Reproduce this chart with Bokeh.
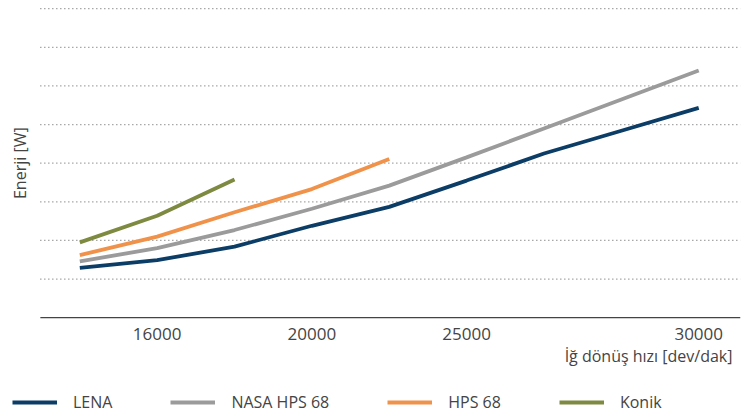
import math
from bokeh.plotting import figure
from bokeh.layouts import column
from bokeh.models import FixedTicker, Legend, LegendItem, Range1d, Title, Label
from bokeh.embed import file_html
from bokeh.resources import INLINE

# x positions (evenly spaced measurement steps) and their labels
x_pos = [0, 1, 2, 3, 4, 5, 6, 7, 8]
x_tick_labels = {1: "16000", 3: "20000", 5: "25000", 8: "30000"}

# Energy values (in gridline units)
lena = [1.29, 1.49, 1.84, 2.38, 2.87, 3.55, 4.25, 4.84, 5.43]
nasa = [1.46, 1.80, 2.27, 2.82, 3.42, 4.15, 4.90, 5.65, 6.40]
hps = [1.62, 2.10, 2.73, 3.33, 4.11]
konik = [1.95, 2.64, 3.58]
grid_levels = [0, 1, 2, 3, 4, 5, 6, 7, 8]

series_names = ["LENA", "NASA HPS 68", "HPS 68", "Konik"]
colors = ["#0b3d66", "#9b9b9b", "#f0924a", "#7d8a40"]

FONT = "Open Sans"
TEXT = "#444444"
LW = 3.8

X_LEFT, X_GRID_START, X_RIGHT = -0.87, -0.51, 8.54

p = figure(frame_width=728, frame_height=311,
           output_backend="svg", toolbar_location=None,
           x_range=Range1d(X_LEFT, X_RIGHT), y_range=Range1d(-0.02, 8.03))
p.min_border_top = 7
p.min_border_left = 12
p.min_border_right = 13
p.min_border_bottom = 54
p.outline_line_color = None
p.background_fill_color = "white"
p.xgrid.visible = False
p.ygrid.visible = False

# dotted gridlines and the solid baseline, starting where the reference's grid starts
n = len(grid_levels) - 1
p.segment(x0=[X_GRID_START] * n, x1=[X_RIGHT] * n, y0=grid_levels[1:], y1=grid_levels[1:],
          line_color="#7a7a7a", line_dash="1 3", line_width=1.2)
p.segment(x0=[X_GRID_START], x1=[X_RIGHT], y0=grid_levels[:1], y1=grid_levels[:1],
          line_color="#444444", line_width=1.5)

all_series = [lena, nasa, hps, konik]
for ys, c in zip(all_series, colors):
    p.line(x_pos[:len(ys)], ys, line_color=c, line_width=LW)

# x axis
xa = p.xaxis[0]
xa.ticker = FixedTicker(ticks=list(x_tick_labels.keys()))
xa.major_label_overrides = x_tick_labels
xa.major_tick_out = 0
xa.major_tick_in = 0
xa.minor_tick_out = 0
xa.minor_tick_in = 0
xa.axis_line_color = None
xa.major_label_text_font = FONT
xa.major_label_text_font_size = "17px"
xa.major_label_text_color = TEXT
xa.major_label_standoff = 9

# x axis title, right aligned
xt = Title(text="İğ dönüş hızı [dev/dak]", align="right", offset=8, standoff=0,
           text_font=FONT, text_font_size="16px", text_font_style="normal",
           text_color=TEXT)
p.add_layout(xt, "below")

# y axis hidden; its label drawn as a rotated label
p.yaxis.visible = False
p.add_layout(Label(x=-0.773, y=4, text="Enerji [W]", angle=math.pi / 2,
                   text_align="center", text_baseline="middle",
                   text_font=FONT, text_font_size="16px", text_color=TEXT))

# legend strip underneath the chart (its lines lie outside its visible range)
q = figure(width=753, height=47, output_backend="svg", toolbar_location=None,
           x_range=Range1d(100, 101), y_range=Range1d(100, 101))
q.min_border = 0
q.min_border_left = 0
q.min_border_right = 0
q.min_border_top = 0
q.min_border_bottom = 0
q.outline_line_color = None
q.axis.visible = False
q.grid.visible = False
legend_renderers = [q.line(x_pos[:len(ys)], ys, line_color=c, line_width=LW)
                    for ys, c in zip(all_series, colors)]

legend = Legend(
    items=[LegendItem(label=nm, renderers=[r]) for nm, r in zip(series_names, legend_renderers)],
    orientation="horizontal", location=(0, 6),
    glyph_width=45, glyph_height=20, label_standoff=16, spacing=58,
    padding=0, margin=0, border_line_alpha=0, background_fill_alpha=0,
    label_text_font=FONT, label_text_font_size="16px", label_text_color=TEXT,
)
q.add_layout(legend, "center")

layout = column(p, q, spacing=0)
open("out.html", "w").write(file_html(layout, INLINE))
